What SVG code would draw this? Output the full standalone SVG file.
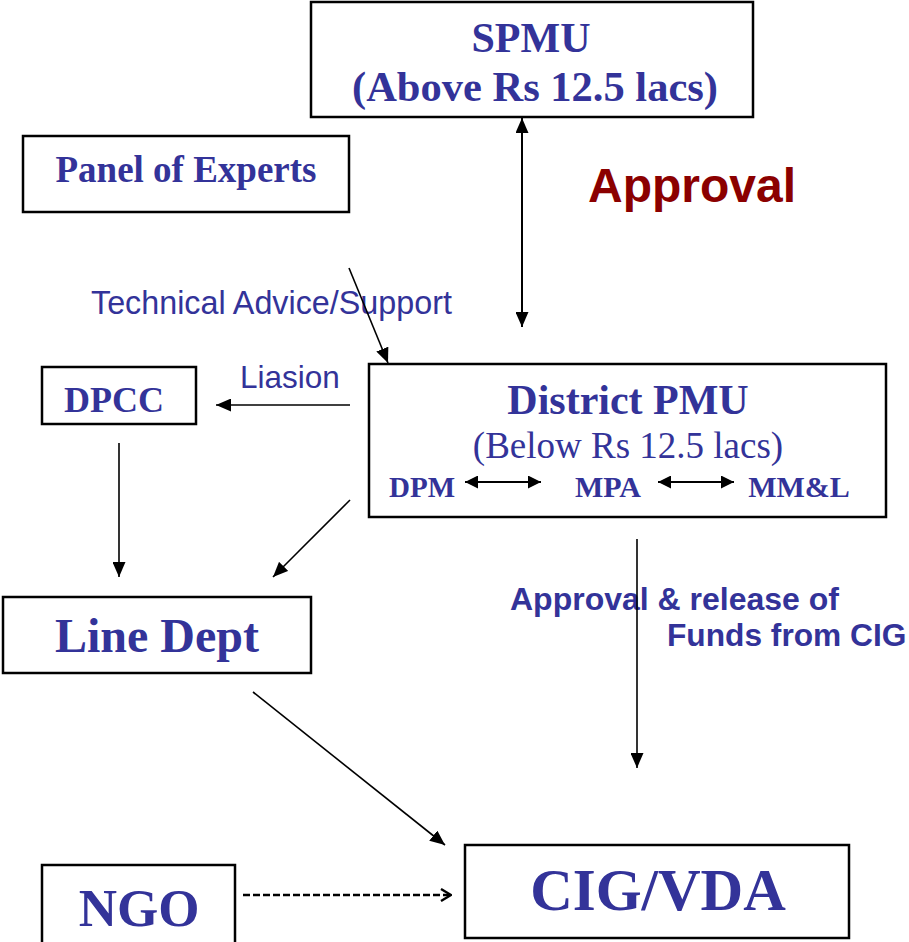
<svg xmlns="http://www.w3.org/2000/svg" width="909" height="942" viewBox="0 0 909 942">
<style>
.box{fill:#fff;stroke:#000;stroke-width:2.5}
.tb{font-family:"Liberation Serif","Times New Roman",serif;font-weight:bold;fill:#333399;text-anchor:middle}
.tr{font-family:"Liberation Serif","Times New Roman",serif;fill:#333399;text-anchor:middle}
.lab{font-family:"Liberation Sans",Arial,sans-serif;fill:#333399}
.conn{stroke:#000;stroke-width:1.6;fill:none}
</style>
<defs>
<marker id="ah" viewBox="0 0 15 13" refX="15" refY="6.5" markerWidth="15" markerHeight="13" markerUnits="userSpaceOnUse" orient="auto-start-reverse">
<path d="M0,0 L15,6.5 L0,13 z" fill="#000"/>
</marker>
<marker id="ahs" viewBox="0 0 13 13" refX="13" refY="6.5" markerWidth="13" markerHeight="13" markerUnits="userSpaceOnUse" orient="auto-start-reverse">
<path d="M0,0 L13,6.5 L0,13 z" fill="#000"/>
</marker>
<marker id="chev" viewBox="0 0 12 14" refX="11" refY="7" markerWidth="12" markerHeight="14" markerUnits="userSpaceOnUse" orient="auto">
<polyline points="1,1 11,7 1,13" fill="none" stroke="#000" stroke-width="2.4"/>
</marker>
</defs>

<g id="spmu">
<rect class="box" x="311" y="2" width="442" height="115"/>
<text class="tb" x="531" y="52" font-size="42">SPMU</text>
<text class="tb" x="535" y="101" font-size="42.5">(Above Rs 12.5 lacs)</text>
</g>

<g id="panel">
<rect class="box" x="23" y="136" width="326" height="76"/>
<text class="tb" x="186" y="182" font-size="37">Panel of Experts</text>
</g>

<g id="dpcc">
<rect class="box" x="42" y="367" width="154" height="57"/>
<text class="tb" x="114" y="412" font-size="36">DPCC</text>
</g>

<g id="district-pmu">
<rect class="box" x="369" y="364" width="517" height="153"/>
<text class="tb" x="628" y="414" font-size="42">District PMU</text>
<text class="tr" x="628" y="458" font-size="37">(Below Rs 12.5 lacs)</text>
<text class="tb" x="422" y="497" font-size="29">DPM</text>
<text class="tb" x="608" y="497" font-size="30">MPA</text>
<text class="tb" x="799" y="497" font-size="30">MM&amp;L</text>
<line x1="465" y1="482" x2="541" y2="482" stroke="#000" stroke-width="2" marker-start="url(#ahs)" marker-end="url(#ahs)"/>
<line x1="658" y1="482" x2="734" y2="482" stroke="#000" stroke-width="2" marker-start="url(#ahs)" marker-end="url(#ahs)"/>
</g>

<g id="line-dept">
<rect class="box" x="3" y="597" width="308" height="76"/>
<text class="tb" x="157" y="652" font-size="48">Line Dept</text>
</g>

<g id="ngo">
<rect class="box" x="42" y="865" width="193" height="82"/>
<text class="tb" x="139" y="926" font-size="53">NGO</text>
</g>

<g id="cig-vda">
<rect class="box" x="465" y="845" width="384" height="93"/>
<text class="tb" x="658" y="910" font-size="59">CIG/VDA</text>
</g>

<g id="labels">
<text x="588" y="202" font-family="'Liberation Sans',Arial,sans-serif" font-weight="bold" font-size="48" fill="#8B0000">Approval</text>
<text class="lab" x="91" y="314" font-size="32.3">Technical Advice/Support</text>
<text class="lab" x="240" y="388" font-size="31.5">Liasion</text>
<text class="lab" x="510" y="610" font-size="32" font-weight="bold">Approval &amp; release of</text>
<text class="lab" x="667" y="646" font-size="31.7" font-weight="bold">Funds from CIG</text>
</g>

<g id="connectors">
<line x1="522" y1="118" x2="522" y2="327" stroke="#000" stroke-width="2" marker-start="url(#ah)" marker-end="url(#ah)"/>
<line class="conn" x1="349" y1="268" x2="388" y2="363" marker-end="url(#ah)"/>
<line class="conn" x1="350" y1="405" x2="216" y2="405" marker-end="url(#ah)"/>
<line class="conn" x1="119" y1="443" x2="119" y2="577" marker-end="url(#ah)"/>
<line class="conn" x1="350" y1="500" x2="273" y2="577" marker-end="url(#ah)"/>
<line class="conn" x1="637" y1="539" x2="637" y2="768" marker-end="url(#ah)"/>
<line class="conn" x1="253" y1="692" x2="445" y2="845" marker-end="url(#ah)"/>
<line x1="243" y1="895" x2="451" y2="895" stroke="#000" stroke-width="2.6" stroke-dasharray="7 3" marker-end="url(#chev)"/>
</g>
</svg>
